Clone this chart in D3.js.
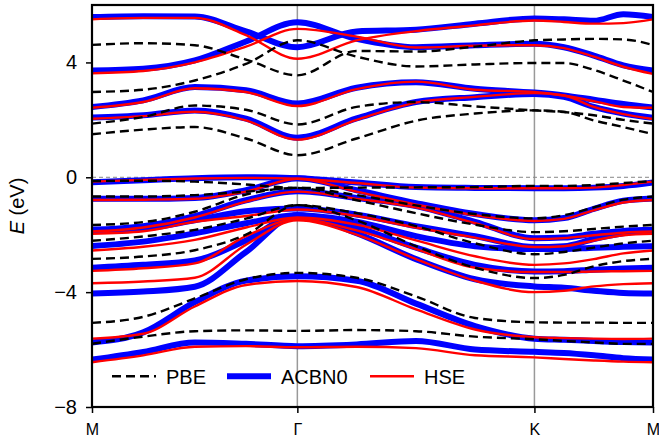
<!DOCTYPE html>
<html>
<head>
<meta charset="utf-8">
<script src="https://cdn.jsdelivr.net/npm/d3@7"></script>
<style>
  body { margin: 0; background: #fff; }
  svg { font-family: "Liberation Sans", Arial, Helvetica, sans-serif; }
</style>
</head>
<body>
<div id="chart"></div>
<script>
// high-symmetry path M - Γ - K - M (path length units)
const kLabels = ["M", "Γ", "K", "M"];
const kTickPos = [0, 0.5774, 1.2440, 1.5774];
const kPath = [0, 0.144, 0.289, 0.433, 0.5774, 0.744, 0.911, 1.077, 1.244, 1.327, 1.411, 1.494, 1.5774];
const yTicks = [-8, -4, 0, 4];

// PBE bands (eV)
const pbeBands = [
    [4.61, 4.67, 4.60, 4.10, 3.55, 4.40, 4.38, 4.55, 4.77, 4.80, 4.82, 4.80, 4.61],
    [2.97, 3.05, 3.37, 3.95, 4.77, 4.20, 3.86, 3.93, 3.98, 3.98, 3.74, 3.37, 2.97],
    [1.87, 2.10, 2.50, 2.35, 1.84, 2.45, 2.62, 2.47, 2.33, 2.27, 2.16, 2.00, 1.87],
    [1.50, 1.66, 1.75, 1.35, 0.77, 1.35, 1.97, 2.22, 2.33, 2.28, 1.98, 1.75, 1.50],
    [-0.13, -0.12, -0.15, -0.25, -0.37, -0.36, -0.35, -0.34, -0.30, -0.30, -0.27, -0.20, -0.13],
    [-0.67, -0.67, -0.62, -0.50, -0.37, -0.62, -0.98, -1.28, -1.43, -1.32, -1.05, -0.78, -0.67],
    [-1.66, -1.56, -1.20, -0.60, -0.37, -0.80, -1.25, -1.65, -1.91, -1.88, -1.80, -1.72, -1.66],
    [-2.21, -2.06, -1.83, -1.44, -0.97, -1.25, -1.70, -2.30, -2.68, -2.60, -2.45, -2.30, -2.21],
    [-2.84, -2.76, -2.54, -2.00, -0.97, -1.50, -2.40, -3.15, -3.51, -3.40, -3.10, -2.92, -2.84],
    [-5.07, -4.86, -4.22, -3.55, -3.33, -3.50, -4.15, -4.90, -5.05, -5.06, -5.06, -5.07, -5.07],
    [-5.80, -5.55, -5.36, -5.33, -5.35, -5.32, -5.36, -5.55, -5.64, -5.70, -5.75, -5.80, -5.80]
];

// ACBN0 bands (eV)
const acbn0Bands = [
    [5.58, 5.61, 5.60, 5.08, 4.53, 5.08, 5.14, 5.35, 5.53, 5.50, 5.45, 5.68, 5.58],
    [3.72, 3.78, 4.07, 4.73, 5.40, 4.82, 4.53, 4.60, 4.65, 4.53, 4.24, 3.90, 3.72],
    [2.45, 2.68, 3.14, 3.03, 2.57, 3.12, 3.31, 3.08, 2.95, 2.85, 2.70, 2.55, 2.43],
    [2.08, 2.16, 2.33, 2.04, 1.38, 2.05, 2.62, 2.79, 2.90, 2.80, 2.45, 2.22, 2.07],
    [-0.17, -0.10, -0.03, 0.00, -0.03, -0.18, -0.34, -0.37, -0.38, -0.38, -0.36, -0.30, -0.18],
    [-0.75, -0.75, -0.72, -0.45, -0.03, -0.45, -0.90, -1.28, -1.50, -1.42, -1.10, -0.82, -0.74],
    [-1.83, -1.70, -1.35, -0.80, -0.49, -0.72, -1.00, -1.55, -2.12, -2.10, -1.97, -1.87, -1.83],
    [-1.83, -1.78, -1.50, -1.18, -1.09, -1.30, -1.70, -2.05, -2.43, -2.40, -2.15, -1.95, -1.83],
    [-2.39, -2.24, -1.95, -1.60, -1.32, -1.55, -2.05, -2.40, -2.50, -2.50, -2.45, -2.42, -2.40],
    [-3.15, -3.05, -2.90, -2.20, -1.32, -1.75, -2.45, -3.05, -3.28, -3.27, -3.22, -3.18, -3.15],
    [-4.05, -3.98, -3.81, -2.60, -1.32, -1.95, -2.85, -3.55, -3.80, -3.85, -3.95, -4.03, -4.05],
    [-5.75, -5.40, -4.35, -3.60, -3.45, -3.60, -4.40, -5.18, -5.62, -5.66, -5.70, -5.74, -5.75],
    [-6.35, -6.08, -5.75, -5.80, -5.88, -5.82, -5.70, -6.00, -6.08, -6.12, -6.20, -6.30, -6.35]
];

// HSE bands (eV)
const hseBands = [
    [5.50, 5.55, 5.55, 4.95, 4.13, 4.77, 5.09, 5.29, 5.46, 5.41, 5.35, 5.37, 5.50],
    [3.62, 3.70, 4.00, 4.55, 5.17, 4.90, 4.52, 4.58, 4.60, 4.50, 4.20, 3.85, 3.60],
    [2.42, 2.62, 3.10, 2.97, 2.48, 3.07, 3.33, 3.05, 2.97, 2.85, 2.65, 2.45, 2.42],
    [2.04, 2.13, 2.28, 1.98, 1.31, 2.00, 2.60, 2.80, 2.93, 2.85, 2.45, 2.20, 2.03],
    [-0.15, -0.09, -0.04, -0.02, -0.05, -0.20, -0.36, -0.38, -0.38, -0.38, -0.36, -0.27, -0.15],
    [-0.79, -0.78, -0.75, -0.50, -0.05, -0.50, -0.95, -1.32, -1.52, -1.45, -1.15, -0.88, -0.79],
    [-1.89, -1.75, -1.40, -0.85, -0.50, -0.75, -1.05, -1.60, -2.15, -2.12, -2.02, -1.93, -1.89],
    [-1.97, -1.88, -1.55, -1.35, -1.12, -1.35, -1.75, -2.10, -2.43, -2.40, -2.20, -2.02, -1.97],
    [-2.55, -2.42, -2.18, -1.75, -1.40, -1.65, -2.20, -2.75, -3.05, -3.00, -2.85, -2.65, -2.55],
    [-3.26, -3.17, -3.00, -2.05, -1.46, -1.85, -2.50, -3.15, -3.30, -3.30, -3.28, -3.27, -3.26],
    [-3.69, -3.63, -3.50, -2.35, -1.50, -2.00, -2.85, -3.60, -4.00, -3.95, -3.80, -3.72, -3.69],
    [-5.62, -5.45, -4.50, -3.75, -3.61, -3.82, -4.60, -5.30, -5.57, -5.60, -5.62, -5.63, -5.62],
    [-6.44, -6.20, -5.90, -5.88, -5.92, -5.90, -5.95, -6.20, -6.27, -6.33, -6.38, -6.42, -6.44]
];

const methods = [
    { name: "PBE", bands: pbeBands, color: "#000000", width: 2.4, dash: "9,5" },
    { name: "ACBN0", bands: acbn0Bands, color: "#0000ff", width: 6, dash: null },
    { name: "HSE", bands: hseBands, color: "#ff0000", width: 2.4, dash: null }
];

function renderChart() {
    const W = 659, H = 441;
    const margin = { top: 5, right: 6, bottom: 34, left: 92 };
    const width = W - margin.left - margin.right;
    const height = H - margin.top - margin.bottom;

    const svg = d3.select("#chart")
        .append("svg")
        .attr("width", W)
        .attr("height", H);

    const g = svg.append("g")
        .attr("transform", `translate(${margin.left},${margin.top})`);

    const x = d3.scaleLinear().domain([0, kTickPos[kTickPos.length - 1]]).range([0, width]);
    const y = d3.scaleLinear().domain([-8, 6]).range([height, 0]);

    g.append("clipPath").attr("id", "clip")
        .append("rect").attr("width", width).attr("height", height);

    // vertical lines at Γ and K
    g.selectAll(".vline")
        .data(kTickPos.slice(1, -1))
        .enter().append("line")
        .attr("x1", d => x(d)).attr("x2", d => x(d))
        .attr("y1", 0).attr("y2", height)
        .attr("stroke", "#999").attr("stroke-width", 1.5);

    // Fermi level
    g.append("line")
        .attr("x1", 0).attr("x2", width)
        .attr("y1", y(0)).attr("y2", y(0))
        .attr("stroke", "#888").attr("stroke-width", 1)
        .attr("stroke-dasharray", "4,3");

    const line = d3.line()
        .x((d, i) => x(kPath[i]))
        .y(d => y(d))
        .curve(d3.curveMonotoneX);

    // ACBN0 first (thick), then HSE, then PBE dashed on top
    const order = [methods[1], methods[2], methods[0]];
    const bandsG = g.append("g").attr("clip-path", "url(#clip)");
    order.forEach(m => {
        bandsG.append("g")
            .selectAll("path")
            .data(m.bands)
            .enter().append("path")
            .attr("d", line)
            .attr("fill", "none")
            .attr("stroke", m.color)
            .attr("stroke-width", m.width)
            .attr("stroke-dasharray", m.dash);
    });

    // axes
    const yAxis = g.append("g")
        .call(d3.axisLeft(y).tickValues(yTicks).tickSize(6).tickPadding(9));
    const xAxis = g.append("g")
        .attr("transform", `translate(0,${height})`)
        .call(d3.axisBottom(x).tickValues(kTickPos).tickFormat((d, i) => kLabels[i]).tickSize(6).tickPadding(11));
    [yAxis, xAxis].forEach(a => {
        a.select(".domain").remove();
        a.selectAll(".tick line").attr("stroke", "#000").attr("stroke-width", 1.5);
    });
    yAxis.selectAll("text").attr("font-size", 20).attr("fill", "#000");
    xAxis.selectAll("text").attr("font-size", 16).attr("fill", "#000");

    // frame
    g.append("rect")
        .attr("width", width).attr("height", height)
        .attr("fill", "none").attr("stroke", "#000").attr("stroke-width", 2.2);

    // y label
    const yl = svg.append("text")
        .attr("transform", `translate(24,${margin.top + height / 2}) rotate(-90)`)
        .attr("text-anchor", "middle")
        .attr("font-size", 20);
    yl.append("tspan").attr("font-style", "italic").text("E");
    yl.append("tspan").text(" (eV)");

    // legend
    const legendX = [20, 135, 278];
    const leg = g.append("g").attr("transform", `translate(0,${y(-6.93)})`);
    methods.forEach((m, i) => {
        const it = leg.append("g").attr("transform", `translate(${legendX[i]},0)`);
        it.append("line")
            .attr("x1", 0).attr("x2", 44)
            .attr("stroke", m.color)
            .attr("stroke-width", m.width)
            .attr("stroke-dasharray", m.dash);
        it.append("text")
            .attr("x", 54).attr("y", 7.5)
            .attr("font-size", 20)
            .text(m.name);
    });
}

renderChart();
</script>
</body>
</html>
